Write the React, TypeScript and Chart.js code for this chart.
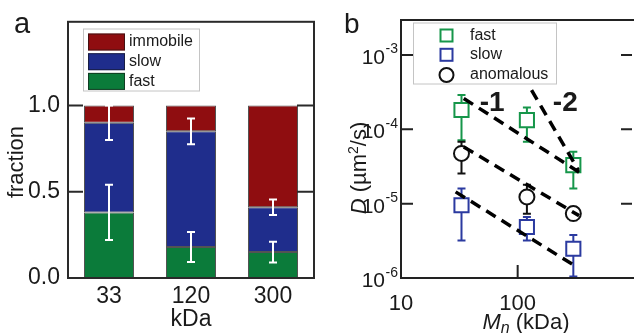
import React, { useEffect, useRef } from 'react';
import { Chart, registerables } from 'chart.js';

Chart.register(...registerables);

const FONT = '"Liberation Sans", Arial, Helvetica, sans-serif';
Chart.defaults.font.family = FONT;

// ---------- Panel a: fractions ----------
const massLabels = ['33', '120', '300'];
const fastFraction = [0.38, 0.18, 0.15];
const slowFraction = [0.52, 0.67, 0.26];
const immobileFraction = [0.1, 0.15, 0.59];
const fastFractionErr = [0.16, 0.087, 0.06];
const mobileFractionErr = [0.1, 0.075, 0.045];
const fractionTicks = [0, 0.5, 1.0];
const fractionMax = 1.485;

// ---------- Panel b: diffusion coefficients ----------
const massKDa = [33, 120, 300];
const dFast = [1.82e-4, 1.33e-4, 3.3e-5];
const dFastLow = [7.1e-5, 6.8e-5, 1.6e-5];
const dFastHigh = [2.89e-4, 1.97e-4, 4.98e-5];
const dSlow = [9.5e-6, 4.85e-6, 2.47e-6];
const dSlowLow = [3.2e-6, 3.2e-6, 1.05e-6];
const dSlowHigh = [1.6e-5, 6.6e-6, 3.8e-6];
const dAnom = [4.73e-5, 1.23e-5, 7.35e-6];
const dAnomLow = [2.55e-5, 7.3e-6, 6.0e-6];
const dAnomHigh = [6.8e-5, 1.8e-5, 8.9e-6];

const fitFastX = [34.5, 336];
const fitFastY = [2.6e-4, 2.65e-5];
const fitSteepX = [131.5, 331];
const fitSteepY = [3.37e-4, 2.82e-5];
const fitAnomX = [34.5, 336];
const fitAnomY = [5.8e-5, 6.9e-6];
const fitSlowX = [29.4, 298];
const fitSlowY = [1.44e-5, 1.51e-6];

const slopeLabels = ['-1', '-2'];
const slopeLabelX = [60.4, 256];
const slopeLabelY = [2.25e-4, 2.25e-4];

const dTicks = [1e-6, 1e-5, 1e-4, 1e-3];
const dTickExp = ['-6', '-5', '-4', '-3'];
const massTicks = [10, 100];
const massMin = 10;
const massMax = 955;
const dMin = 1e-6;
const dMax = 2.95e-3;

const C_IMM = '#8f0d10';
const C_SLOW = '#1f2d8c';
const C_FAST = '#0b7b3a';
const C_GREEN = '#16964a';
const C_BLUE = '#2b3aa0';
const INK = '#1a1a1a';

function drawErr(ctx: CanvasRenderingContext2D, x: number, y1: number, y2: number, cap: number) {
  ctx.beginPath();
  ctx.moveTo(x, y1);
  ctx.lineTo(x, y2);
  ctx.moveTo(x - cap, y1);
  ctx.lineTo(x + cap, y1);
  ctx.moveTo(x - cap, y2);
  ctx.lineTo(x + cap, y2);
  ctx.stroke();
}

type Seg = { t: string; font: string; dy?: number };
function drawRich(ctx: CanvasRenderingContext2D, segs: Seg[], x: number, y: number, align: 'center' | 'left') {
  let w = 0;
  segs.forEach((s) => {
    ctx.font = s.font;
    w += ctx.measureText(s.t).width;
  });
  let cx = align === 'center' ? x - w / 2 : x;
  ctx.textAlign = 'left';
  ctx.textBaseline = 'alphabetic';
  segs.forEach((s) => {
    ctx.font = s.font;
    ctx.fillText(s.t, cx, y + (s.dy || 0));
    cx += ctx.measureText(s.t).width;
  });
}

const panelAPlugin = {
  id: 'panelA',
  afterDatasetsDraw(chart: any) {
    const { ctx, chartArea: ca, scales } = chart;
    const x = scales.x;
    const y = scales.y;
    ctx.save();
    // error bars (white)
    ctx.strokeStyle = '#ffffff';
    ctx.lineWidth = 2;
    massLabels.forEach((_, i) => {
      const px = x.getPixelForValue(i);
      drawErr(ctx, px, y.getPixelForValue(fastFraction[i] - fastFractionErr[i]), y.getPixelForValue(fastFraction[i] + fastFractionErr[i]), 4);
      const top = fastFraction[i] + slowFraction[i];
      drawErr(ctx, px, y.getPixelForValue(top - mobileFractionErr[i]), y.getPixelForValue(top + mobileFractionErr[i]), 4);
    });
    // frame
    ctx.strokeStyle = '#2a2a2a';
    ctx.lineWidth = 2;
    ctx.strokeRect(ca.left, ca.top, ca.right - ca.left, ca.bottom - ca.top);
    // inward ticks
    ctx.beginPath();
    fractionTicks.forEach((v) => {
      if (v === 0) return;
      const py = y.getPixelForValue(v);
      ctx.moveTo(ca.left, py);
      ctx.lineTo(ca.left + 15, py);
      ctx.moveTo(ca.right - 17, py);
      ctx.lineTo(ca.right, py);
    });
    ctx.stroke();
    // legend
    const lx = 83, ly = 28.5;
    ctx.fillStyle = '#ffffff';
    ctx.strokeStyle = '#c4c4c4';
    ctx.lineWidth = 1;
    ctx.strokeRect(lx + 0.5, ly + 0.5, 116, 62);
    const items = [
      { label: 'immobile', color: C_IMM },
      { label: 'slow', color: C_SLOW },
      { label: 'fast', color: C_FAST },
    ];
    items.forEach((it, k) => {
      const sy = ly + 5 + k * 19.7;
      ctx.fillStyle = it.color;
      ctx.fillRect(lx + 5, sy, 37, 17);
      ctx.strokeStyle = 'rgba(20,20,20,0.6)';
      ctx.strokeRect(lx + 5.5, sy + 0.5, 36, 16);
      ctx.fillStyle = INK;
      ctx.font = `16px ${FONT}`;
      ctx.textAlign = 'left';
      ctx.textBaseline = 'middle';
      ctx.fillText(it.label, lx + 46, sy + 8.5);
    });
    // axis titles
    ctx.fillStyle = INK;
    ctx.save();
    ctx.translate(17, 162);
    ctx.rotate(-Math.PI / 2);
    ctx.font = `22px ${FONT}`;
    ctx.textAlign = 'center';
    ctx.textBaseline = 'middle';
    ctx.fillText('fraction', 0, 0);
    ctx.restore();
    ctx.font = `23px ${FONT}`;
    ctx.textAlign = 'center';
    ctx.textBaseline = 'alphabetic';
    ctx.fillText('kDa', (ca.left + ca.right) / 2, 326);
    // panel letter
    ctx.font = `29px ${FONT}`;
    ctx.textAlign = 'left';
    ctx.fillText('a', 14, 33);
    ctx.restore();
  },
};

const panelBPlugin = {
  id: 'panelB',
  beforeDatasetsDraw(chart: any) {
    const { ctx, scales } = chart;
    const x = scales.x;
    const y = scales.y;
    ctx.save();
    ctx.lineWidth = 2;
    const series = [
      { lo: dFastLow, hi: dFastHigh, color: C_GREEN },
      { lo: dSlowLow, hi: dSlowHigh, color: C_BLUE },
      { lo: dAnomLow, hi: dAnomHigh, color: '#111111' },
    ];
    series.forEach((s) => {
      ctx.strokeStyle = s.color;
      massKDa.forEach((m, i) => {
        drawErr(ctx, x.getPixelForValue(m), y.getPixelForValue(s.lo[i]), y.getPixelForValue(s.hi[i]), 4);
      });
    });
    ctx.restore();
  },
  afterDraw(chart: any) {
    const { ctx, chartArea: ca, scales } = chart;
    const x = scales.x;
    const y = scales.y;
    ctx.save();
    // frame: left, top, bottom
    ctx.strokeStyle = '#222222';
    ctx.lineWidth = 2;
    ctx.beginPath();
    ctx.moveTo(ca.right + 2, ca.top);
    ctx.lineTo(ca.left, ca.top);
    ctx.lineTo(ca.left, ca.bottom);
    ctx.lineTo(ca.right + 2, ca.bottom);
    ctx.stroke();
    // inward ticks
    ctx.beginPath();
    dTicks.forEach((v) => {
      if (v === dMin) return;
      const py = y.getPixelForValue(v);
      ctx.moveTo(ca.left, py);
      ctx.lineTo(ca.left + 12, py);
      ctx.moveTo(ca.right - 11, py);
      ctx.lineTo(ca.right, py);
    });
    massTicks.forEach((v) => {
      if (v === massMin) return;
      const px = x.getPixelForValue(v);
      ctx.moveTo(px, ca.bottom);
      ctx.lineTo(px, ca.bottom - 13);
    });
    ctx.stroke();
    // y tick labels 10^n
    ctx.fillStyle = INK;
    dTicks.forEach((v, k) => {
      const py = y.getPixelForValue(v);
      ctx.font = `14px ${FONT}`;
      const ew = ctx.measureText(dTickExp[k]).width;
      const ex = ca.left - 3 - ew;
      ctx.textAlign = 'left';
      ctx.textBaseline = 'alphabetic';
      ctx.fillText(dTickExp[k], ex, py - 1.5);
      ctx.font = `21px ${FONT}`;
      ctx.textAlign = 'right';
      ctx.fillText('10', ex - 0.5, py + 9);
    });
    // y title: D (µm²/s)
    ctx.save();
    ctx.translate(45.5, 168);
    ctx.rotate(-Math.PI / 2);
    drawRich(
      ctx,
      [
        { t: 'D', font: `italic 22px ${FONT}` },
        { t: ' (\u00b5m', font: `22px ${FONT}` },
        { t: '2', font: `14px ${FONT}`, dy: -8 },
        { t: '/s)', font: `22px ${FONT}` },
      ],
      0,
      0,
      'center'
    );
    ctx.restore();
    // x title: Mn (kDa)
    drawRich(
      ctx,
      [
        { t: 'M', font: `italic 22px ${FONT}` },
        { t: 'n', font: `italic 16px ${FONT}`, dy: 4 },
        { t: ' (kDa)', font: `22px ${FONT}` },
      ],
      206,
      329,
      'center'
    );
    // slope labels
    ctx.font = `bold 28px ${FONT}`;
    ctx.textAlign = 'center';
    ctx.textBaseline = 'middle';
    slopeLabels.forEach((t, k) => {
      ctx.fillText(t, x.getPixelForValue(slopeLabelX[k]), y.getPixelForValue(slopeLabelY[k]));
    });
    // legend
    const lx = 93, ly = 22.5;
    ctx.fillStyle = '#ffffff';
    ctx.fillRect(lx, ly, 144, 61);
    ctx.strokeStyle = '#c4c4c4';
    ctx.lineWidth = 1;
    ctx.strokeRect(lx + 0.5, ly + 0.5, 143, 61);
    const items = [
      { label: 'fast', color: C_GREEN, shape: 'rect' },
      { label: 'slow', color: C_BLUE, shape: 'rect' },
      { label: 'anomalous', color: '#111111', shape: 'circle' },
    ];
    const rowY = [35.5, 54.8, 75];
    items.forEach((it, k) => {
      const cy = rowY[k];
      const cx = lx + 33.5;
      ctx.strokeStyle = it.color;
      ctx.lineWidth = 2;
      if (it.shape === 'rect') {
        ctx.strokeRect(cx - 6, cy - 6, 12, 12);
      } else {
        ctx.beginPath();
        ctx.arc(cx, cy, 7, 0, Math.PI * 2);
        ctx.stroke();
      }
      ctx.fillStyle = INK;
      ctx.font = `16px ${FONT}`;
      ctx.textAlign = 'left';
      ctx.textBaseline = 'middle';
      ctx.fillText(it.label, lx + 57, cy);
    });
    // panel letter
    ctx.fillStyle = INK;
    ctx.font = `28px ${FONT}`;
    ctx.textAlign = 'left';
    ctx.textBaseline = 'alphabetic';
    ctx.fillText('b', 24, 33);
    ctx.restore();
  },
};

function PanelA() {
  const ref = useRef<HTMLCanvasElement>(null);
  useEffect(() => {
    const chart = new Chart(ref.current as HTMLCanvasElement, {
      type: 'bar',
      data: {
        labels: massLabels,
        datasets: [
          { label: 'fast', data: fastFraction, backgroundColor: C_FAST },
          { label: 'slow', data: slowFraction, backgroundColor: C_SLOW },
          { label: 'immobile', data: immobileFraction, backgroundColor: C_IMM },
        ].map((d) => ({
          ...d,
          borderColor: 'rgba(25,25,25,0.75)',
          borderWidth: 1,
          borderSkipped: false,
          barPercentage: 0.61,
          categoryPercentage: 1,
        })),
      },
      options: {
        responsive: false,
        animation: false,
        devicePixelRatio: 1,
        layout: { padding: { top: 20, right: 6, left: 0, bottom: 0 } },
        plugins: { legend: { display: false }, tooltip: { enabled: false } },
        scales: {
          x: {
            stacked: true,
            grid: { display: false, drawTicks: false },
            border: { display: false },
            ticks: { font: { size: 23 }, color: INK, padding: 5 },
            afterFit: (s: any) => {
              s.height = 55;
            },
          },
          y: {
            stacked: true,
            min: 0,
            max: fractionMax,
            grid: { display: false, drawTicks: false },
            border: { display: false },
            afterBuildTicks: (s: any) => {
              s.ticks = fractionTicks.map((v) => ({ value: v }));
            },
            ticks: {
              font: { size: 23 },
              color: INK,
              padding: 8,
              callback: (v: any) => Number(v).toFixed(1),
            },
            afterFit: (s: any) => {
              s.width = 68;
            },
          },
        },
      },
      plugins: [panelAPlugin],
    } as any);
    return () => chart.destroy();
  }, []);
  return <canvas ref={ref} width={320} height={333} style={{ display: 'block', width: 320, height: 333 }} />;
}

function PanelB() {
  const ref = useRef<HTMLCanvasElement>(null);
  useEffect(() => {
    const pts = (xs: number[], ys: number[]) => xs.map((x, i) => ({ x, y: ys[i] }));
    const fit = (xs: number[], ys: number[], label: string) => ({
      label,
      data: pts(xs, ys),
      showLine: true,
      borderColor: '#000000',
      borderWidth: 3.5,
      borderDash: [11, 7],
      borderCapStyle: 'butt',
      pointRadius: 0,
      fill: false,
      order: 0,
    });
    const marker = (ys: number[], label: string, color: string, style: string, r: number) => ({
      label,
      data: pts(massKDa, ys),
      showLine: false,
      pointStyle: style,
      pointRadius: r,
      pointBorderWidth: 2,
      pointBorderColor: color,
      pointBackgroundColor: '#ffffff',
      borderColor: color,
      backgroundColor: '#ffffff',
      order: 1,
    });
    const chart = new Chart(ref.current as HTMLCanvasElement, {
      type: 'scatter',
      data: {
        datasets: [
          fit(fitFastX, fitFastY, 'fit fast (-1)'),
          fit(fitSteepX, fitSteepY, 'fit (-2)'),
          fit(fitAnomX, fitAnomY, 'fit anomalous'),
          fit(fitSlowX, fitSlowY, 'fit slow'),
          marker(dFast, 'fast', C_GREEN, 'rect', 10),
          marker(dSlow, 'slow', C_BLUE, 'rect', 10),
          marker(dAnom, 'anomalous', '#111111', 'circle', 7.5),
        ],
      },
      options: {
        responsive: false,
        animation: false,
        devicePixelRatio: 1,
        layout: { padding: { top: 20, right: 0, left: 0, bottom: 0 } },
        plugins: { legend: { display: false }, tooltip: { enabled: false } },
        scales: {
          x: {
            type: 'logarithmic',
            min: massMin,
            max: massMax,
            grid: { display: false, drawTicks: false },
            border: { display: false },
            afterBuildTicks: (s: any) => {
              s.ticks = massTicks.map((v) => ({ value: v }));
            },
            ticks: {
              font: { size: 22 },
              color: INK,
              padding: 12.5,
              autoSkip: false,
              maxRotation: 0,
              callback: (v: any) => String(v),
            },
            afterFit: (s: any) => {
              s.height = 55;
            },
          },
          y: {
            type: 'logarithmic',
            min: dMin,
            max: dMax,
            grid: { display: false, drawTicks: false },
            border: { display: false },
            afterBuildTicks: (s: any) => {
              s.ticks = dTicks.map((v) => ({ value: v }));
            },
            ticks: { display: false },
            afterFit: (s: any) => {
              s.width = 81;
            },
          },
        },
      },
      plugins: [panelBPlugin],
    } as any);
    return () => chart.destroy();
  }, []);
  return <canvas ref={ref} width={324} height={333} style={{ display: 'block', width: 324, height: 333 }} />;
}

export default function App() {
  return (
    <div style={{ position: 'fixed', left: 0, top: 0, width: 644, height: 333, background: '#ffffff', overflow: 'hidden' }}>
      <div style={{ position: 'absolute', left: 0, top: 0 }}>
        <PanelA />
      </div>
      <div style={{ position: 'absolute', left: 320, top: 0 }}>
        <PanelB />
      </div>
    </div>
  );
}
